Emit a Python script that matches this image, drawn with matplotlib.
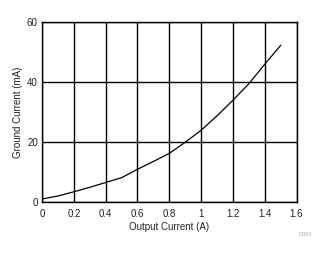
import matplotlib
matplotlib.use("Agg")
import matplotlib.pyplot as plt

output_current = [0.0, 0.1, 0.2, 0.3, 0.4, 0.5, 0.6, 0.7, 0.8, 0.9, 1.0, 1.1, 1.2, 1.3, 1.4, 1.5]
ground_current = [1.1, 2.1, 3.5, 5.0, 6.6, 8.2, 11.0, 13.6, 16.3, 20.0, 24.0, 28.8, 34.0, 39.5, 46.0, 52.3]
x_ticks = [0, 0.2, 0.4, 0.6, 0.8, 1, 1.2, 1.4, 1.6]
x_tick_labels = ["0", "0.2", "0.4", "0.6", "0.8", "1", "1.2", "1.4", "1.6"]
y_ticks = [0, 20, 40, 60]

plt.rcParams['font.family'] = ['Liberation Sans', 'DejaVu Sans']

fig = plt.figure(figsize=(3.25, 2.54), dpi=100)
ax = fig.add_axes([42/325, 1 - 202.3/254, (296.5-42)/325, (202.3-22.3)/254])
ax.plot(output_current, ground_current, color='black', lw=0.9)
ax.set_xlim(0, 1.6)
ax.set_ylim(0, 60)
ax.set_xticks(x_ticks)
ax.set_xticklabels(x_tick_labels)
ax.set_yticks(y_ticks)
ax.grid(True, color='black', lw=1.0)
for s in ax.spines.values():
    s.set_linewidth(1.0)
ax.tick_params(length=0, labelsize=7, colors='#222222', pad=3)
ax.tick_params(axis='x', pad=5)
ax.set_xlabel("Output Current (A)", fontsize=7, color='#222222', labelpad=2)
ax.set_ylabel("Ground Current (mA)", fontsize=7, color='#2a1a1a', labelpad=3)
fig.text(305/325, 1 - 234/254, "D003", fontsize=4, color='#aaaaaa', ha='center', va='center')
fig.savefig("out.png", dpi=100)
